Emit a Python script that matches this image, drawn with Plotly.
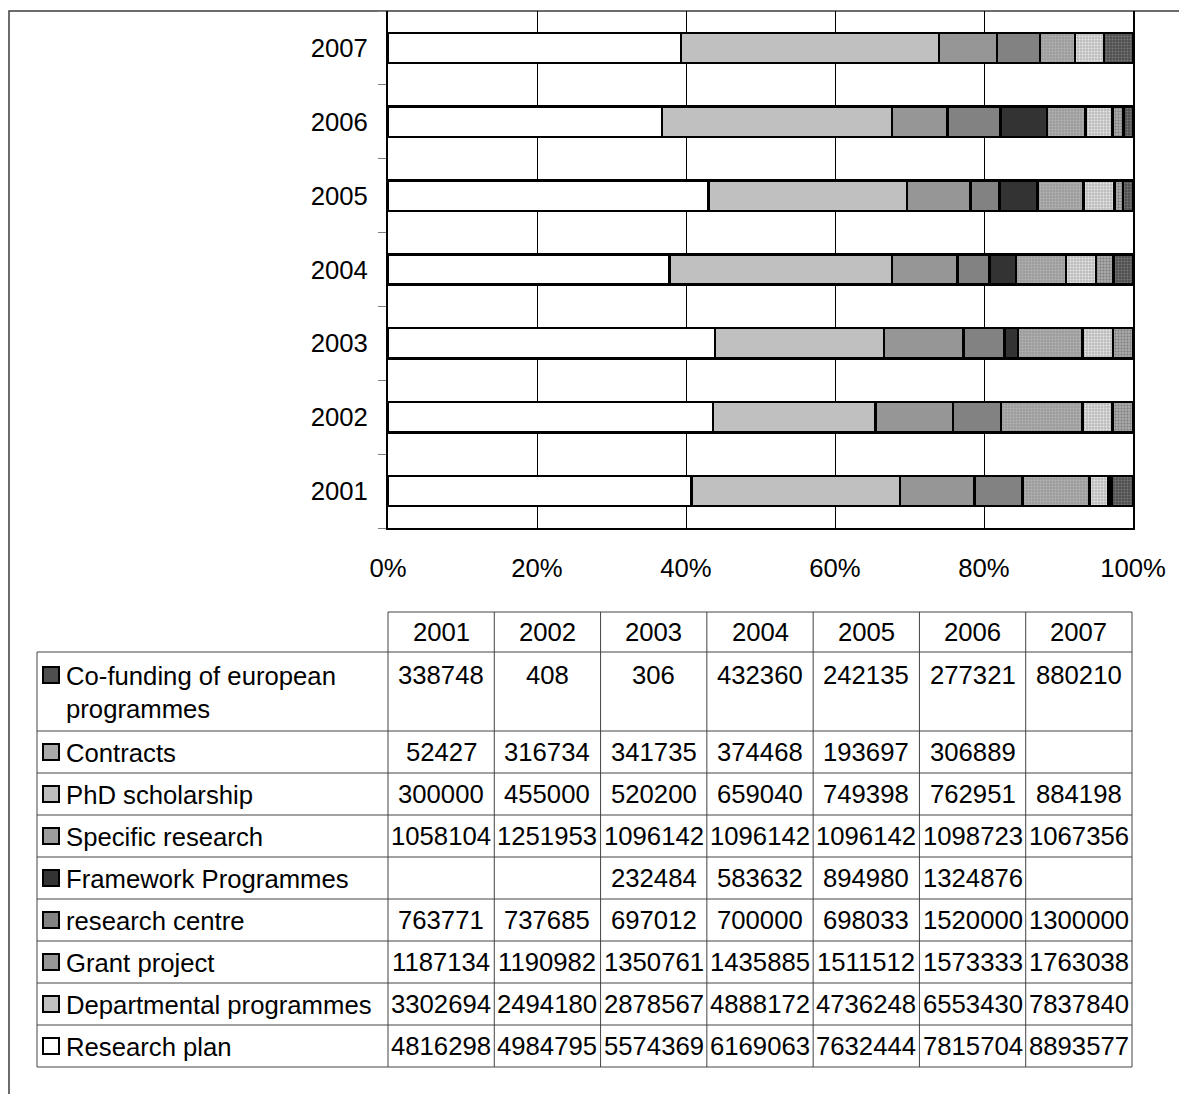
import plotly.graph_objects as go

# ---- data -------------------------------------------------------------
years = ["2001", "2002", "2003", "2004", "2005", "2006", "2007"]

research_plan = [4816298, 4984795, 5574369, 6169063, 7632444, 7815704, 8893577]
departmental = [3302694, 2494180, 2878567, 4888172, 4736248, 6553430, 7837840]
grant_project = [1187134, 1190982, 1350761, 1435885, 1511512, 1573333, 1763038]
research_centre = [763771, 737685, 697012, 700000, 698033, 1520000, 1300000]
framework = [None, None, 232484, 583632, 894980, 1324876, None]
specific_research = [1058104, 1251953, 1096142, 1096142, 1096142, 1098723, 1067356]
phd_scholarship = [300000, 455000, 520200, 659040, 749398, 762951, 884198]
contracts = [52427, 316734, 341735, 374468, 193697, 306889, None]
cofunding = [338748, 408, 306, 432360, 242135, 277321, 880210]

x_ticks = [0, 20, 40, 60, 80, 100]
x_tick_labels = [f"{t}%" for t in x_ticks]

# series in stacking order (left to right in each bar)
series = [
    ("Research plan", research_plan, "#ffffff", None),
    ("Departmental programmes", departmental, "#c0c0c0", None),
    ("Grant project", grant_project, "#969696", None),
    ("research centre", research_centre, "#828282", None),
    ("Framework Programmes", framework, "#333333", None),
    ("Specific research", specific_research, "#9c9c9c", "#b4b4b4"),
    ("PhD scholarship", phd_scholarship, "#bdbdbd", "#e8e8e8"),
    ("Contracts", contracts, "#aaaaaa", "#7c7c7c"),
    ("Co-funding of european<br>programmes", cofunding, "#4e4e4e", "#7a7a7a"),
]

W, H = 1179, 1094
FONT = "Liberation Sans, Arial, sans-serif"
FS = 25.7

# plot area in pixels
PL, PR, PT, PB = 388, 1133, 11, 528


def px(x):
    return x / W


def py(y):
    return 1 - y / H


fig = go.Figure()
for name, vals, color, dots in series:
    marker = dict(color=color, line=dict(color="#000000", width=2.5))
    if dots:
        marker["pattern"] = dict(shape=".", bgcolor=color, fgcolor=dots,
                                 size=3, solidity=0.35, fillmode="replace")
    fig.add_trace(go.Bar(y=years, x=vals, name=name, orientation="h",
                         marker=marker, showlegend=False))

# ---- data table below the chart -------------------------------------
col_left = 37
col_edges = [PL + i * (1132 - PL) / 7 for i in range(8)]
header_top, header_bot = 612, 652
row_edges = [652, 731, 773, 815, 857, 899, 941, 983, 1025, 1067]
LINE = dict(color="#444444", width=1)

shapes = []
annotations = []

# chart outer frame
shapes.append(dict(type="rect", xref="paper", yref="paper",
                   x0=px(9), x1=px(1230), y0=py(11), y1=py(1130),
                   line=dict(color="#3c3c3c", width=1.5), layer="below"))

# table grid
shapes.append(dict(type="line", xref="paper", yref="paper",
                   x0=px(col_edges[0]), x1=px(col_edges[-1]),
                   y0=py(header_top), y1=py(header_top), line=LINE))
for yy in row_edges:
    shapes.append(dict(type="line", xref="paper", yref="paper",
                       x0=px(col_left), x1=px(col_edges[-1]),
                       y0=py(yy), y1=py(yy), line=LINE))
for xx in col_edges:
    shapes.append(dict(type="line", xref="paper", yref="paper",
                       x0=px(xx), x1=px(xx),
                       y0=py(header_top), y1=py(row_edges[-1]), line=LINE))
shapes.append(dict(type="line", xref="paper", yref="paper",
                   x0=px(col_left), x1=px(col_left),
                   y0=py(row_edges[0]), y1=py(row_edges[-1]), line=LINE))

# header row with years
for i, yr in enumerate(years):
    annotations.append(dict(xref="paper", yref="paper",
                            x=px((col_edges[i] + col_edges[i + 1]) / 2),
                            y=py((header_top + header_bot) / 2),
                            text=yr, showarrow=False, xanchor="center",
                            yanchor="middle", font=dict(size=FS)))

# body rows: top row of the table is the last series
table_rows = list(reversed(series))
for r, (name, vals, color, dots) in enumerate(table_rows):
    top, bot = row_edges[r], row_edges[r + 1]
    cy = (top + bot) / 2 if bot - top < 60 else top + 23
    # legend key
    shapes.append(dict(type="rect", xref="paper", yref="paper",
                       x0=px(43), x1=px(59), y0=py(cy - 8), y1=py(cy + 8),
                       fillcolor=color, line=dict(color="#000000", width=2)))
    annotations.append(dict(xref="paper", yref="paper", x=px(64),
                            y=py(cy - 15.5), text=name, showarrow=False,
                            xanchor="left", yanchor="top", align="left",
                            font=dict(size=FS)))
    for i, v in enumerate(vals):
        if v is None:
            continue
        annotations.append(dict(xref="paper", yref="paper",
                                x=px((col_edges[i] + col_edges[i + 1]) / 2),
                                y=py(cy), text=str(v), showarrow=False,
                                xanchor="center", yanchor="middle",
                                font=dict(size=FS)))

fig.update_layout(
    width=W, height=H,
    margin=dict(l=0, r=0, t=0, b=0, autoexpand=False),
    paper_bgcolor="#ffffff", plot_bgcolor="#ffffff",
    barmode="stack", barnorm="percent", bargap=0.59,
    font=dict(family=FONT, size=FS, color="#000000"),
    shapes=shapes, annotations=annotations,
    xaxis=dict(domain=[px(PL), px(PR)], range=[0, 100],
               tickmode="array", tickvals=x_ticks, ticktext=x_tick_labels,
               showgrid=True, gridcolor="#000000", gridwidth=1,
               showline=True, linecolor="#000000", linewidth=2,
               ticks="", ticklabelstandoff=16, zeroline=False,
               automargin=False, fixedrange=True),
    yaxis=dict(domain=[py(PB), py(PT)], type="category",
               categoryorder="array", categoryarray=years,
               tickson="boundaries", ticks="outside", ticklen=8,
               tickcolor="#808080", tickwidth=1,
               showline=True, linecolor="#000000", linewidth=2, mirror=True,
               showgrid=False, ticklabelstandoff=13, automargin=False,
               fixedrange=True),
)

fig.write_html("out.html")
